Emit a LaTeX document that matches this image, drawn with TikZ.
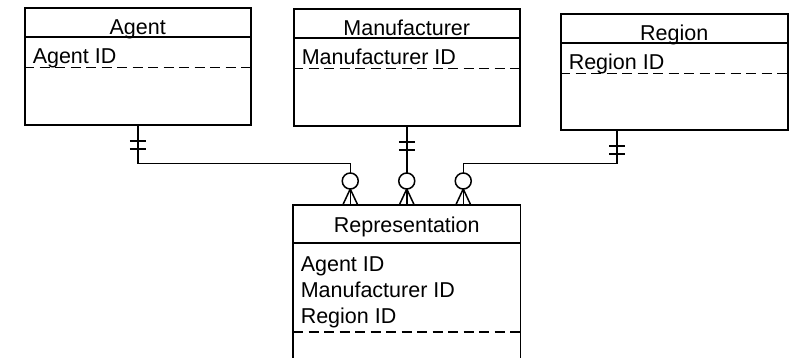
\documentclass[tikz,border=0pt]{standalone}
\usepackage{fontspec}
\setmainfont{Liberation Sans}
\usetikzlibrary{calc}
\begin{document}
\begin{tikzpicture}[x=1pt,y=-1pt, line width=1.5pt,
  entity/.style={draw, minimum width=226pt, minimum height=117pt, inner sep=0pt, anchor=north west},
  ttl/.style={font=\fontsize{21.5}{25}\selectfont, anchor=base, inner sep=0pt},
  attr/.style={font=\fontsize{21.5}{25}\selectfont, anchor=base west, inner sep=0pt},
  keyline/.style={dash pattern=on 10pt off 5.5pt}]
\useasboundingbox (0,0) rectangle (791,357);
% entities
\node[entity] (agent) at (24,7) {};
\node[entity] (manu) at (293,8) {};
\node[entity, minimum width=227pt, minimum height=116pt] (region) at (560,13) {};
\foreach \e/\t/\a in {agent/Agent/Agent ID, manu/Manufacturer/Manufacturer ID, region/Region/Region ID}{
  \draw ($(\e.north west)+(0,30)$) -- ($(\e.north east)+(0,30)$);
  \node[ttl] (\e T) at ($(\e.north)+(0,27)$) {\t};
  \node[attr] (\e A) at ($(\e.north west)+(8,56)$) {\a};
  \draw[keyline] ($(\e.north west)+(0,60.5)$) -- ($(\e.north east)+(0,60.5)$);
}
% representation (open bottom)
\node[minimum width=226pt, minimum height=152pt, inner sep=0pt, anchor=north west] (rep) at (293,205) {};
\draw (rep.south west) -- (rep.north west) -- (rep.north east) -- (rep.south east);
\draw ($(rep.north west)+(0,38)$) -- ($(rep.north east)+(0,38)$);
\node[ttl] (repT) at ($(rep.north)+(0,27)$) {Representation};
\node[attr] (repA1) at ($(rep.north west)+(7,66)$) {Agent ID};
\node[attr] (repA2) at ($(rep.north west)+(7,92)$) {Manufacturer ID};
\node[attr] (repA3) at ($(rep.north west)+(7,118)$) {Region ID};
\draw[keyline] ($(rep.north west)+(0,127)$) -- ($(rep.north east)+(0,127)$);
% optional-many ends
\coordinate (c1) at ($(rep.north)+(-56.5,-24)$);
\coordinate (c2) at ($(rep.north)+(0,-24)$);
\coordinate (c3) at ($(rep.north)+(56.5,-24)$);
\foreach \c in {c1,c2,c3}{
  \draw (\c) circle[radius=8pt];
  \draw ($(\c)+(0,8)$) -- ($(\c |- rep.north)+(-7.5,0)$);
  \draw ($(\c)+(0,8)$) -- (\c |- rep.north);
  \draw ($(\c)+(0,8)$) -- ($(\c |- rep.north)+(7.5,0)$);
}
% one-and-only-one ends
\coordinate (rS) at ($(region.south west)+(57,0)$);
\foreach \s in {agent.south, manu.south, rS}{
  \draw ($(\s)+(-8,15.5)$) -- ($(\s)+(8,15.5)$);
  \draw ($(\s)+(-8,23.5)$) -- ($(\s)+(8,23.5)$);
}
% connectors
\draw (agent.south) -- ++(0,38) -| ($(c1)+(0,-8)$);
\draw (manu.south) -- ($(c2)+(0,-8)$);
\draw (rS) -- ++(0,33) -| ($(c3)+(0,-8)$);
\end{tikzpicture}
\end{document}
